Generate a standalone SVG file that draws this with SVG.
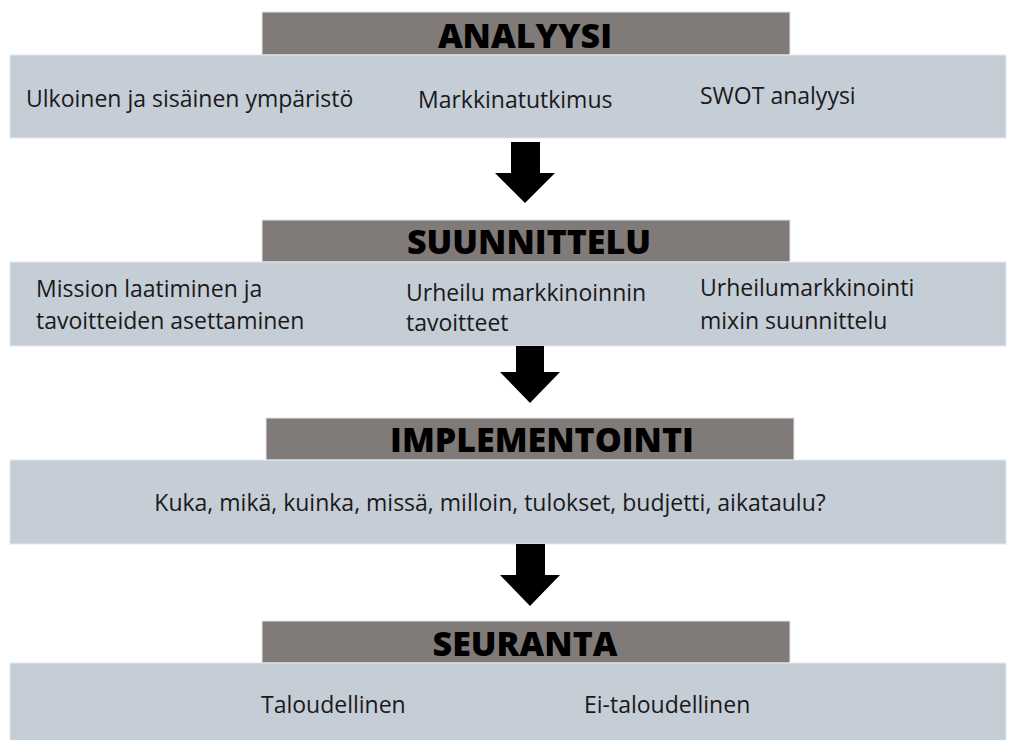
<svg xmlns="http://www.w3.org/2000/svg" width="1015" height="740" viewBox="0 0 1015 740">
<style>
.hd{fill:#807b79;stroke:#e6e6e6;stroke-width:1}
.bx{fill:#c5cdd7;stroke:#e3e7ec;stroke-width:1}
.ht{font-family:"Open Sans",sans-serif;font-weight:800;font-size:34px;fill:#000;text-anchor:middle}
.tx{font-family:"Open Sans",sans-serif;font-size:23px;fill:#1a1a1a}
.ar{fill:#000}
</style>
<rect width="1015" height="740" fill="#fff"/>
<g id="analyysi">
<rect class="hd" x="262" y="12" width="528" height="43"/>
<rect class="bx" x="10" y="55" width="996" height="83"/>
<text class="ht" x="525" y="48">ANALYYSI</text>
<text class="tx" x="26" y="107">Ulkoinen ja sisäinen ympäristö</text>
<text class="tx" x="418" y="108">Markkinatutkimus</text>
<text class="tx" x="700" y="104">SWOT analyysi</text>
</g>
<g id="suunnittelu">
<rect class="hd" x="262" y="220" width="528" height="42"/>
<rect class="bx" x="10" y="262" width="996" height="84"/>
<text class="ht" x="529" y="254">SUUNNITTELU</text>
<text class="tx" x="36" y="297">Mission laatiminen ja</text>
<text class="tx" x="36" y="329">tavoitteiden asettaminen</text>
<text class="tx" x="406" y="301">Urheilu markkinoinnin</text>
<text class="tx" x="406" y="331">tavoitteet</text>
<text class="tx" x="700" y="296">Urheilumarkkinointi</text>
<text class="tx" x="700" y="329">mixin suunnittelu</text>
</g>
<g id="implementointi">
<rect class="hd" x="266" y="418" width="528" height="42"/>
<rect class="bx" x="10" y="460" width="996" height="84"/>
<text class="ht" x="542" y="452">IMPLEMENTOINTI</text>
<text class="tx" x="490" y="511" text-anchor="middle">Kuka, mikä, kuinka, missä, milloin, tulokset, budjetti, aikataulu?</text>
</g>
<g id="seuranta">
<rect class="hd" x="262" y="621" width="528" height="42"/>
<rect class="bx" x="10" y="663" width="996" height="78"/>
<text class="ht" x="525" y="656">SEURANTA</text>
<text class="tx" x="261" y="713">Taloudellinen</text>
<text class="tx" x="584" y="713">Ei-taloudellinen</text>
</g>
<g id="connectors">
<polygon class="ar" points="511,142 540,142 540,173 555,173 525,203 495,173 511,173"/>
<polygon class="ar" points="516,346 544,346 544,372 560,372 530,403 500,372 516,372"/>
<polygon class="ar" points="516,544 545,544 545,575 560,575 530,606 500,575 516,575"/>
</g>
</svg>
